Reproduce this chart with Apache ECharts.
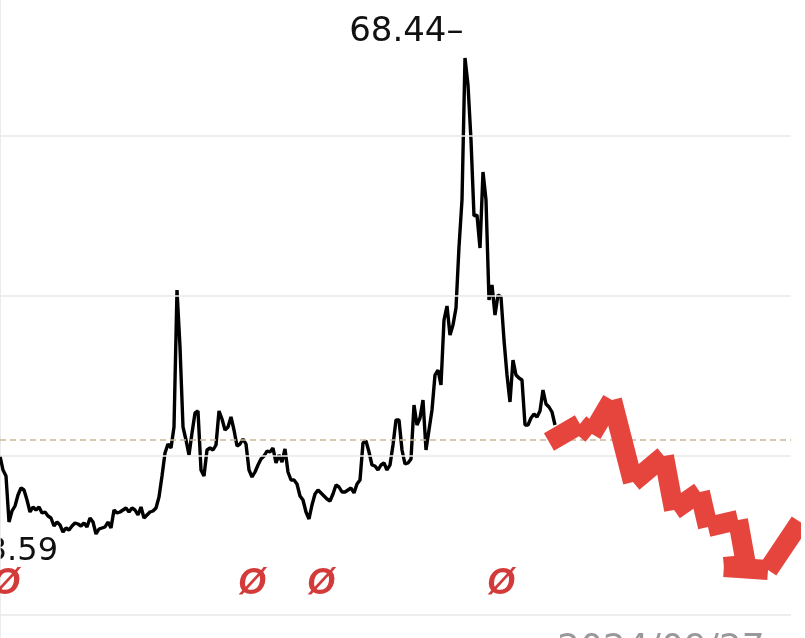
<!DOCTYPE html>
<html>
<head>
<meta charset="utf-8">
<script src="https://cdn.jsdelivr.net/npm/echarts@6/dist/echarts.min.js"></script>
<style>html,body{margin:0;padding:0;background:#fff}#c{width:805px;height:638px}</style>
</head>
<body>
<div id="c"></div>
<script>
// ---- data (x = trading-day index, y = price) ----
const priceDays = [];
const priceValues = [28.64,27.24,26.64,22.04,23.14,23.64,24.74,25.44,25.24,24.24,
23.04,23.54,23.24,23.54,22.94,23.04,22.64,22.44,21.64,22.04,
21.74,21.04,21.44,21.24,21.64,21.94,21.84,21.64,21.94,21.54,
22.44,22.04,20.84,21.34,21.44,21.54,22.04,21.44,23.24,22.94,
23.04,23.24,23.44,23.04,23.44,23.24,22.74,23.54,22.44,22.74,
23.04,23.14,23.44,24.54,26.64,28.94,29.84,29.44,31.54,45.24,
39.54,31.54,30.24,28.74,30.94,32.94,33.14,27.24,26.64,29.24,
29.44,29.24,29.74,33.14,32.34,31.24,31.54,32.54,31.24,29.64,
29.84,30.34,29.84,27.24,26.54,27.04,27.74,28.34,28.64,29.14,
29.04,29.44,27.94,28.74,28.04,29.34,27.04,26.24,26.24,25.84,
24.64,24.24,23.04,22.34,23.74,24.84,25.24,24.94,24.64,24.34,
24.14,24.84,25.74,25.54,25.04,25.04,25.24,25.44,24.94,25.84,
26.24,29.94,30.14,29.04,27.74,27.64,27.24,27.74,27.94,27.24,
27.74,29.74,32.24,32.24,29.24,27.84,27.94,28.34,33.74,31.74,
32.44,34.24,29.24,31.24,33.24,36.74,37.24,35.74,42.24,43.64,
40.74,41.74,43.44,49.54,54.24,68.44,65.74,60.24,52.64,52.74,
49.44,57.04,54.24,44.24,45.74,42.74,44.74,44.54,40.24,36.74,
34.04,38.24,36.74,36.44,36.24,31.74,31.74,32.44,32.84,32.54,
33.14,35.24,33.84,33.54,33.04,31.74];
for (let i = 0; i < priceValues.length; i++) priceDays.push(i);

// hand-drawn red stroke (day, price)
const strokeDays   = [183, 193.3, 197.3, 204, 211, 221.3, 224.7, 233.3, 236, 246, 248.7, 241.3, 256, 266.7];
const strokeValues = [30.04, 31.84, 30.84, 34.24, 26.04, 28.64, 23.24, 25.04, 21.54, 22.24, 17.74, 17.54, 17.24, 22.04];

// event markers (day indices)
const eventDays = [2, 84, 107, 167];
const eventLabel = 'Ø';

// reference lines
const gridValues = [60.64, 44.64, 28.64, 12.74];
const refValue = 30.24;

const highLabelSuffix = '–';
const lowLabel = '23.59';
const dateLabel = '2024/09/27';

// ---- chart ----
const chart = echarts.init(document.getElementById('c'), null, {renderer: 'canvas'});
const linePairs = priceDays.map((d, i) => [d, priceValues[i]]);
const strokeSeries = [];
for (let i = 0; i < strokeDays.length - 1; i++) {
  strokeSeries.push({
    type: 'line', silent: true, clip: false, symbol: 'none', z: 6,
    data: [[strokeDays[i], strokeValues[i]], [strokeDays[i + 1], strokeValues[i + 1]]],
    lineStyle: {color: '#e5453d', width: 20, cap: 'butt', join: 'miter'},
    animation: false
  });
}
const markerLevel = 15.84;

chart.setOption({
  animation: false,
  backgroundColor: '#ffffff',
  grid: {left: 0, right: 14, top: 0, bottom: 0},
  xAxis: {type: 'value', min: 0, max: 263.67, show: false},
  yAxis: {
    type: 'value', min: 10.44, max: 74.24, position: 'right',
    axisLine: {show: true, lineStyle: {color: '#e6e6e6', width: 1.5}},
    axisTick: {show: false}, axisLabel: {show: false}, splitLine: {show: false}
  },
  series: [
    {
      type: 'line', data: linePairs, z: 1, silent: true, symbol: 'none',
      lineStyle: {opacity: 0},
      markLine: {
        silent: true, symbol: 'none', label: {show: false},
        data: gridValues.map(v => ({yAxis: v, lineStyle: {color: '#e8e8e8', width: 1.5, type: 'solid'}}))
          .concat([{yAxis: refValue, lineStyle: {color: '#c8b898', width: 1.5, type: [6, 4]}}])
      }
    },
    {
      type: 'line', data: linePairs, z: 3, symbol: 'none', silent: true,
      lineStyle: {color: '#000000', width: 3.4},
      markPoint: {
        symbol: 'rect', symbolSize: 1, itemStyle: {color: 'rgba(0,0,0,0)'},
        data: [{type: 'max'}],
        label: {
          show: true, position: 'left', distance: 1, offset: [0, -26],
          formatter: p => p.value + highLabelSuffix,
          color: '#111111', fontSize: 34, fontFamily: 'DejaVu Sans'
        }
      }
    },
    {
      type: 'scatter', silent: true, z: 4,
      data: eventDays.map(d => [d, markerLevel]),
      symbol: 'circle', symbolSize: 1, itemStyle: {color: 'rgba(0,0,0,0)'},
      label: {
        show: true, position: 'inside', formatter: eventLabel,
        color: '#c80a0a', fontSize: 36, fontWeight: 'bold', fontStyle: 'italic',
        fontFamily: 'Liberation Sans'
      }
    }
  ].concat(strokeSeries),
  graphic: [
    {type: 'text', x: 58, y: 552, style: {text: lowLabel, align: 'right', verticalAlign: 'middle', fill: '#111111', fontSize: 32, fontFamily: 'DejaVu Sans'}},
    {type: 'text', x: 661, y: 650, style: {text: dateLabel, align: 'center', verticalAlign: 'middle', fill: '#999999', fontSize: 36, fontFamily: 'DejaVu Sans'}}
  ]
});
</script>
</body>
</html>
